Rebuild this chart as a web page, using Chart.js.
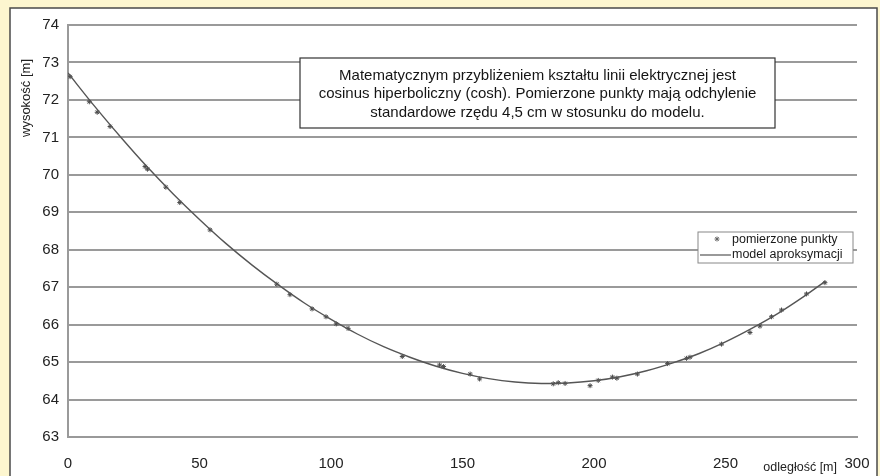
<!DOCTYPE html>
<html><head><meta charset="utf-8">
<script src="https://cdn.jsdelivr.net/npm/chart.js@4/dist/chart.umd.min.js"></script>
<style>html,body{margin:0;padding:0;background:#fdf6cf;}canvas{display:block;}</style>
</head><body>
<canvas id="c" width="880" height="476"></canvas>
<script>
// ---- data ----
const measuredX = [0.8, 8.1, 11.1, 16, 29.3, 30.2, 37.2, 42.5, 54, 79.4, 84.4, 92.8, 98.1, 102, 106.5, 127.1, 141.3, 142.8, 152.9, 156.5, 184.5, 186.4, 189, 198.5, 201.6, 207, 208.7, 216.5, 228, 235.2, 236.5, 248.5, 259.3, 263.1, 267.5, 271.3, 280.8, 287.8];
const measuredY = [72.62, 71.95, 71.67, 71.29, 70.22, 70.15, 69.67, 69.26, 68.53, 67.08, 66.8, 66.42, 66.21, 66.02, 65.9, 65.15, 64.92, 64.88, 64.68, 64.55, 64.42, 64.45, 64.43, 64.37, 64.51, 64.6, 64.57, 64.68, 64.96, 65.1, 65.13, 65.48, 65.79, 65.96, 66.21, 66.39, 66.82, 67.12];
const modelX = [0, 10, 20, 30, 40, 50, 60, 70, 80, 90, 100, 110, 120, 130, 140, 150, 160, 170, 180, 190, 200, 210, 220, 230, 240, 250, 260, 270, 280, 288];
const modelY = [72.72, 71.84, 71.01, 70.22, 69.49, 68.81, 68.17, 67.59, 67.06, 66.57, 66.14, 65.75, 65.41, 65.13, 64.89, 64.70, 64.56, 64.47, 64.43, 64.44, 64.50, 64.61, 64.77, 64.98, 65.23, 65.54, 65.90, 66.30, 66.76, 67.16];
const xTicks = [0, 50, 100, 150, 200, 250, 300];
const yTicks = [63, 64, 65, 66, 67, 68, 69, 70, 71, 72, 73, 74];
const seriesLabels = ['pomierzone punkty', 'model aproksymacji'];
const yTitle = 'wysokość [m]';
const xTitle = 'odległość [m]';
const noteLines = [
  'Matematycznym przybliżeniem kształtu linii elektrycznej jest',
  'cosinus hiperboliczny (cosh). Pomierzone punkty mają odchylenie',
  'standardowe rzędu 4,5 cm w stosunku do modelu.'
];

const FONT = '"Liberation Sans", Arial, sans-serif';
const INK = '#555';

const framePlugin = {
  id: 'frame',
  beforeDraw(chart) {
    const ctx = chart.ctx;
    ctx.save();
    ctx.fillStyle = '#fdf6cf';
    ctx.fillRect(0, 0, chart.width, chart.height);
    ctx.fillStyle = '#ffffff';
    ctx.fillRect(10, 8, 867, 470);
    ctx.strokeStyle = '#4a4a4a';
    ctx.lineWidth = 1.5;
    ctx.strokeRect(10, 8, 867, 470);
    ctx.restore();
  },
  afterDraw(chart) {
    const ctx = chart.ctx;
    ctx.save();
    // note box
    ctx.fillStyle = '#fff';
    ctx.fillRect(300, 58, 475, 70);
    ctx.strokeStyle = '#333';
    ctx.lineWidth = 1.2;
    ctx.strokeRect(300, 58, 475, 70);
    ctx.fillStyle = '#151515';
    ctx.font = '15px ' + FONT;
    ctx.textAlign = 'center';
    ctx.textBaseline = 'middle';
    noteLines.forEach((t, i) => ctx.fillText(t, 537.5, 75.5 + i * 18.5));

    // legend
    ctx.fillStyle = '#fff';
    ctx.fillRect(698, 232, 155, 31);
    ctx.strokeStyle = '#888';
    ctx.lineWidth = 1;
    ctx.strokeRect(698, 232, 155, 31);
    ctx.strokeStyle = '#666';
    Chart.helpers.drawPoint(ctx, {pointStyle: 'star', radius: 2.5, rotation: 0, borderWidth: 1}, 717, 239);
    ctx.strokeStyle = INK;
    ctx.lineWidth = 1.2;
    ctx.beginPath(); ctx.moveTo(700, 255); ctx.lineTo(731, 255); ctx.stroke();
    ctx.fillStyle = '#1a1a1a';
    ctx.font = '12.5px ' + FONT;
    ctx.textAlign = 'left';
    ctx.textBaseline = 'middle';
    ctx.fillText(seriesLabels[0], 732, 240);
    ctx.fillText(seriesLabels[1], 732, 255);

    // axis titles
    ctx.fillStyle = '#222';
    ctx.font = '12.5px ' + FONT;
    ctx.textAlign = 'right';
    ctx.fillText(xTitle, 837, 468);
    ctx.translate(26, 98);
    ctx.rotate(-Math.PI / 2);
    ctx.textAlign = 'center';
    ctx.font = '13px ' + FONT;
    ctx.fillText(yTitle, 0, 0);
    ctx.restore();
  }
};

new Chart(document.getElementById('c'), {
  type: 'scatter',
  data: {
    datasets: [
      {
        label: seriesLabels[1],
        data: modelX.map((x, i) => ({x: x, y: modelY[i]})),
        showLine: true,
        pointRadius: 0,
        borderColor: INK,
        borderWidth: 1.4,
        tension: 0.3
      },
      {
        label: seriesLabels[0],
        data: measuredX.map((x, i) => ({x: x, y: measuredY[i]})),
        showLine: false,
        pointStyle: 'star',
        pointRadius: 2.5,
        borderWidth: 1,
        borderColor: '#4a4a4a',
        backgroundColor: '#4a4a4a'
      }
    ]
  },
  options: {
    responsive: false,
    animation: false,
    devicePixelRatio: 1,
    layout: {padding: {top: 25, right: 23, bottom: 0, left: 0}},
    plugins: {legend: {display: false}, tooltip: {enabled: false}},
    scales: {
      x: {
        type: 'linear',
        min: 0, max: 300,
        afterBuildTicks: s => { s.ticks = xTicks.map(v => ({value: v})); },
        afterFit: s => { s.height = 39; },
        grid: {display: false},
        border: {display: true, color: '#999', width: 2},
        ticks: {padding: 10, color: '#222', font: {family: FONT, size: 15}, maxRotation: 0}
      },
      y: {
        type: 'linear',
        min: 63, max: 74,
        afterBuildTicks: s => { s.ticks = yTicks.map(v => ({value: v})); },
        afterFit: s => { s.width = 68; },
        grid: {color: '#9a9a9a', lineWidth: 2, drawTicks: false},
        border: {display: true, color: '#9a9a9a', width: 2},
        ticks: {padding: 9, color: '#222', font: {family: FONT, size: 15}}
      }
    }
  },
  plugins: [framePlugin]
});
</script>
</body></html>
